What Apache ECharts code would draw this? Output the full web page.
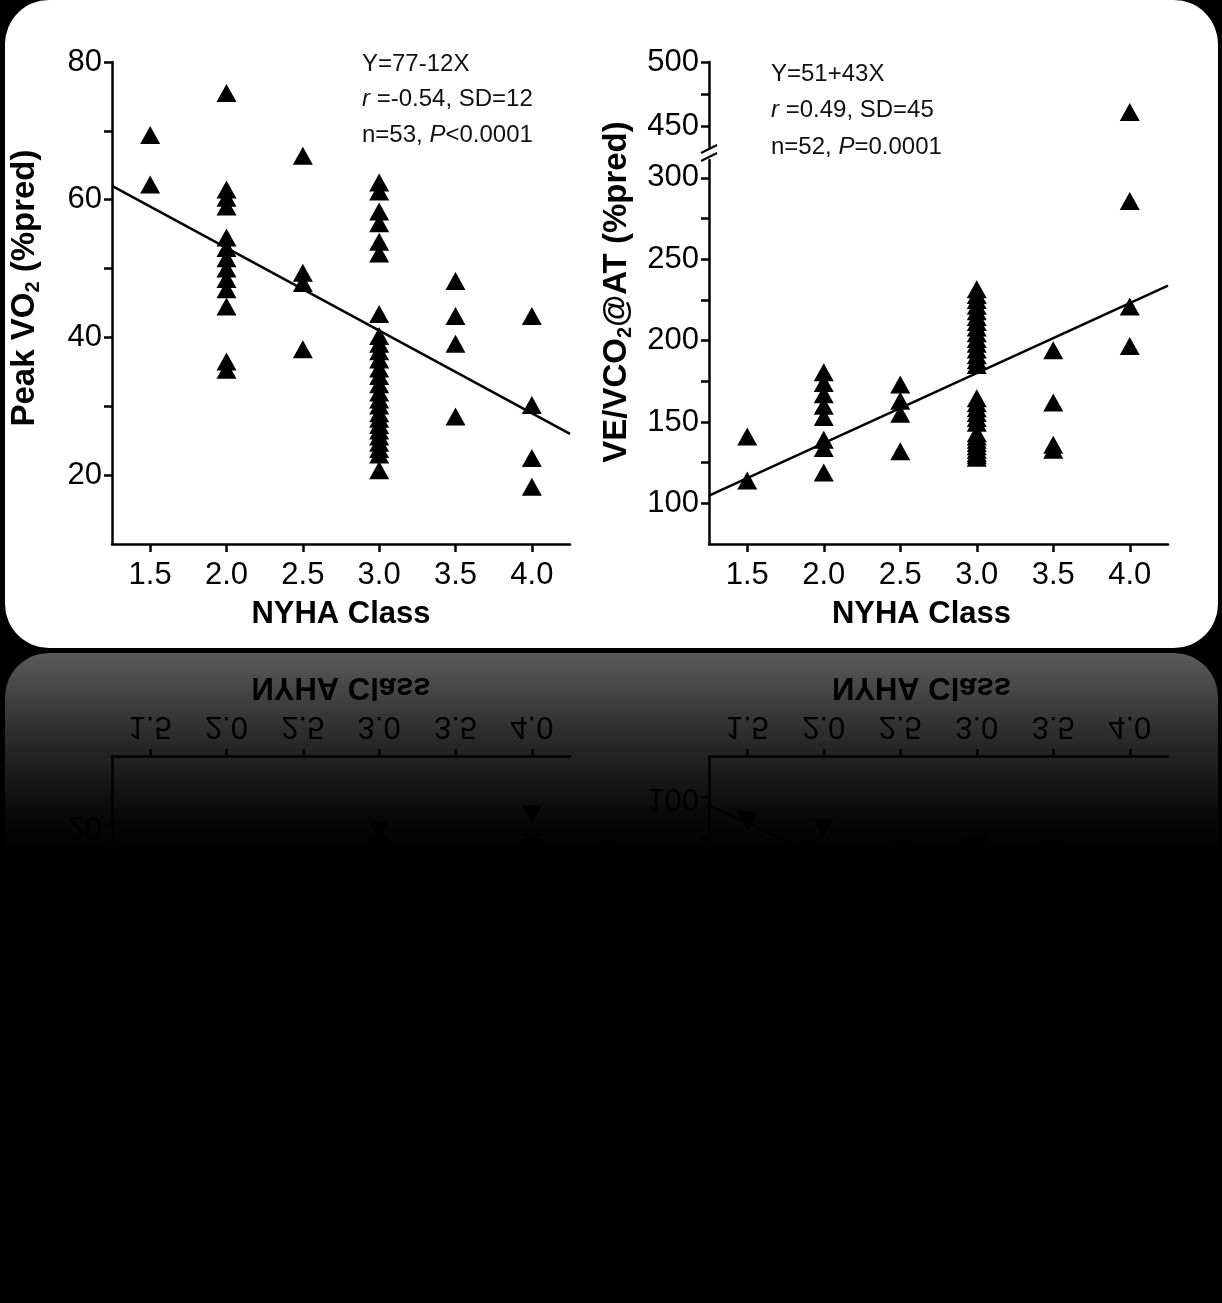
<!DOCTYPE html>
<html>
<head>
<meta charset="utf-8">
<script src="https://cdn.jsdelivr.net/npm/echarts@6/dist/echarts.min.js"></script>
<style>
  html, body { margin: 0; padding: 0; background: #000; width: 1222px; height: 1303px; overflow: hidden; }
  .panel { position: absolute; left: 5px; top: 0px; width: 1213px; height: 648px; background: #fff; border-radius: 44px; }
  .chart { position: absolute; left: 0; top: 0; width: 1222px; height: 650px; }
  #mainWrap { position: absolute; left: 0; top: 0; width: 1222px; height: 650px; }
  #reflWrap { position: absolute; left: 0; top: 651px; width: 1222px; height: 650px; transform: scaleY(-1); transform-origin: 50% 50%; }
  #fade { position: absolute; left: 0; top: 651px; width: 1222px; height: 652px;
          background: linear-gradient(to bottom, rgba(0,0,0,0.64) 0px, rgba(0,0,0,0.82) 80px, rgba(0,0,0,0.96) 160px, #000 200px); }
</style>
</head>
<body>
<div id="mainWrap"><div class="panel"></div><div id="main" class="chart"></div></div>
<div id="reflWrap"><div class="panel"></div><div id="refl" class="chart"></div></div>
<div id="fade"></div>
<script>
// ---------- data ----------
const xMin = 1.25, xMax = 4.25;
const xTickValues = [1.5, 2.0, 2.5, 3.0, 3.5, 4.0];
const leftYTickValues = [20, 30, 40, 50, 60, 70, 80];
const leftYLabelValues = [20, 40, 60, 80];
const rightLowerTickValues = [100, 125, 150, 175, 200, 225, 250, 275, 300];
const rightLowerLabelValues = [100, 150, 200, 250, 300];
const rightUpperTickValues = [450, 475, 500];
const rightUpperLabelValues = [450, 500];

const nyhaClasses = [1.5, 2.0, 2.5, 3.0, 3.5, 4.0];

// Peak VO2 (%pred) by NYHA class
const peakVO2_15 = [69.4, 62.2];
const peakVO2_20 = [75.5, 61.5, 60.3, 59.0, 54.5, 53.0, 51.5, 50.0, 48.5, 47.0, 44.5, 36.5, 35.3];
const peakVO2_25 = [66.4, 49.4, 47.9, 38.3];
const peakVO2_30 = [62.5, 61.2, 58.3, 56.6, 53.9, 52.2,
                    43.4, 40.2, 39.1, 38.0, 36.8, 35.5, 34.4, 33.2, 32.0, 31.0,
                    30.1, 29.0, 28.2, 27.3, 26.5, 25.6, 24.7, 23.8, 23.0, 20.7];
const peakVO2_35 = [48.2, 43.1, 39.1, 28.5];
const peakVO2_40 = [43.1, 30.2, 22.5, 18.3];
const peakVO2Groups = [peakVO2_15, peakVO2_20, peakVO2_25, peakVO2_30, peakVO2_35, peakVO2_40];

// VE/VCO2@AT (%pred) by NYHA class
const ve_15 = [141, 114];
const ve_20 = [180.5, 174, 167, 160, 153, 139, 134, 119];
const ve_25 = [173, 163, 155, 132];
const ve_30 = [231.5, 228, 225, 221.5, 218, 214.5, 211.5, 208, 204.5, 201, 198, 194.5, 191, 188, 185,
               164.5, 161.5, 158.5, 155.5, 152.5, 149.5, 143, 141, 139, 137, 135, 133, 131, 129.5, 128];
const ve_35 = [194, 162, 136, 133];
const ve_40 = [461, 285.8, 220.9, 196.7];
const veGroups = [ve_15, ve_20, ve_25, ve_30, ve_35, ve_40];

// regression lines (end points read at axis limits)
const leftFitX = [1.25, 4.25];
const leftFitY = [62.0, 26.0];
const rightFitX = [1.25, 4.25];
const rightFitY = [104.75, 233.75];

// axis break on right panel
const rightLowerMax = 311;
const rightUpperMin = 433;
const rightUpperMax = 500;

// annotations
const leftNote = ['Y=77-12X', '{i|r} =-0.54, SD=12', 'n=53, {i|P}<0.0001'];
const rightNote = ['Y=51+43X', '{i|r} =0.49, SD=45', 'n=52, {i|P}=0.0001'];

// ---------- option ----------
function pairs(groups) {
  const out = [];
  groups.forEach((vals, gi) => vals.forEach(v => out.push([nyhaClasses[gi], v])));
  return out;
}

function buildOption() {
  const font = "'Liberation Sans', Arial, Helvetica, sans-serif";
  const black = '#000';
  const axisLS = { color: black, width: 2.5 };
  const labelStyle = { color: black, fontSize: 31, fontFamily: font };
  const nameStyle = {
    color: black, fontSize: 31, fontWeight: 'bold', fontFamily: font
  };
  const richName = {
    n: { fontSize: 33, fontWeight: 'bold', fontFamily: font, color: black, lineHeight: 36, verticalAlign: 'middle' },
    s: { fontSize: 20, fontWeight: 'bold', fontFamily: font, color: black, lineHeight: 18, verticalAlign: 'bottom' }
  };

  const xAxis = (gi, show, padRight) => ({
    type: 'value', gridIndex: gi, min: xMin, max: xMax, show: show,
    axisLine: { show: true, onZero: false, lineStyle: axisLS },
    axisTick: { show: true, inside: false, length: 8, lineStyle: axisLS, customValues: xTickValues },
    axisLabel: Object.assign({ show: true, customValues: xTickValues, margin: 16,
      formatter: v => Number(v).toFixed(1) }, labelStyle),
    splitLine: { show: false },
    name: show ? 'NYHA Class' : '', nameLocation: 'middle', nameGap: 55, nameMoveOverlap: false,
    nameTextStyle: Object.assign({ padding: [0, padRight || 0, 0, 0] }, nameStyle)
  });

  const yAxis = (gi, min, max, ticks, labels, name, gap, padLeft) => ({
    type: 'value', gridIndex: gi, min: min, max: max,
    axisLine: { show: true, onZero: false, lineStyle: axisLS },
    axisTick: { show: true, inside: false, length: 8, lineStyle: axisLS, customValues: ticks },
    axisLabel: Object.assign({ show: true, customValues: labels, margin: 10 }, labelStyle),
    splitLine: { show: false },
    name: name || '', nameLocation: 'middle', nameRotate: 90, nameGap: gap || 0, nameMoveOverlap: false,
    nameTextStyle: Object.assign({ padding: [0, 0, 0, padLeft || 0], rich: richName }, nameStyle)
  });

  const scatter = (xi, yi, data) => ({
    type: 'scatter', xAxisIndex: xi, yAxisIndex: yi, data: data,
    symbol: 'triangle', symbolSize: [20, 18],
    itemStyle: { color: black, opacity: 1 }, silent: true, clip: false, z: 3
  });
  const fit = (xi, yi, xs, ys) => ({
    type: 'line', xAxisIndex: xi, yAxisIndex: yi,
    data: xs.map((x, i) => [x, ys[i]]),
    symbol: 'none', lineStyle: { color: black, width: 2.5 }, silent: true, z: 2
  });

  const leftData = pairs(peakVO2Groups);
  const rightAll = pairs(veGroups);
  const rightLow = rightAll.filter(p => p[1] <= rightLowerMax);
  const rightHigh = rightAll.filter(p => p[1] >= rightUpperMin);

  const noteText = (lines, x, y0, dy) => lines.map((t, i) => ({
    type: 'text', x: x, y: y0 + i * dy, silent: true,
    style: {
      text: t, fill: '#111', fontSize: 24, fontFamily: font,
      verticalAlign: 'middle', align: 'left',
      rich: { i: { fontStyle: 'italic', fontSize: 24, fontFamily: font, fill: '#111' } }
    }
  }));

  return {
    animation: false,
    backgroundColor: 'transparent',
    grid: [
      { left: 112, top: 62, width: 458, height: 482, outerBoundsMode: 'none', containLabel: false },
      { left: 709, top: 160, width: 459, height: 384, outerBoundsMode: 'none', containLabel: false },
      { left: 709, top: 62, width: 459, height: 86, outerBoundsMode: 'none', containLabel: false }
    ],
    xAxis: [ xAxis(0, true, 0), xAxis(1, true, 34), xAxis(2, false, 0) ],
    yAxis: [
      yAxis(0, 10, 80, leftYTickValues, leftYLabelValues, '{n|Peak VO}{s|2}{n| (%pred)}', 69, 30),
      yAxis(1, 75, rightLowerMax, rightLowerTickValues, rightLowerLabelValues, '{n|VE/VCO}{s|2}{n|@AT (%pred)}', 74, 120),
      yAxis(2, rightUpperMin, rightUpperMax, rightUpperTickValues, rightUpperLabelValues, '', 0, 0)
    ],
    series: [
      fit(0, 0, leftFitX, leftFitY),
      scatter(0, 0, leftData),
      fit(1, 1, rightFitX, rightFitY),
      scatter(1, 1, rightLow),
      scatter(2, 2, rightHigh)
    ],
    graphic: [].concat(
      noteText(leftNote, 362, 64, 35.5),
      noteText(rightNote, 771, 74, 36.5),
      [
        { type: 'line', silent: true, shape: { x1: 701, y1: 153, x2: 717, y2: 145 }, style: { stroke: '#000', lineWidth: 2 } },
        { type: 'line', silent: true, shape: { x1: 701, y1: 161, x2: 717, y2: 153 }, style: { stroke: '#000', lineWidth: 2 } }
      ]
    )
  };
}

const main = echarts.init(document.getElementById('main'), null, { renderer: 'canvas' });
main.setOption(buildOption());
const refl = echarts.init(document.getElementById('refl'), null, { renderer: 'canvas' });
refl.setOption(buildOption());
</script>
</body>
</html>
